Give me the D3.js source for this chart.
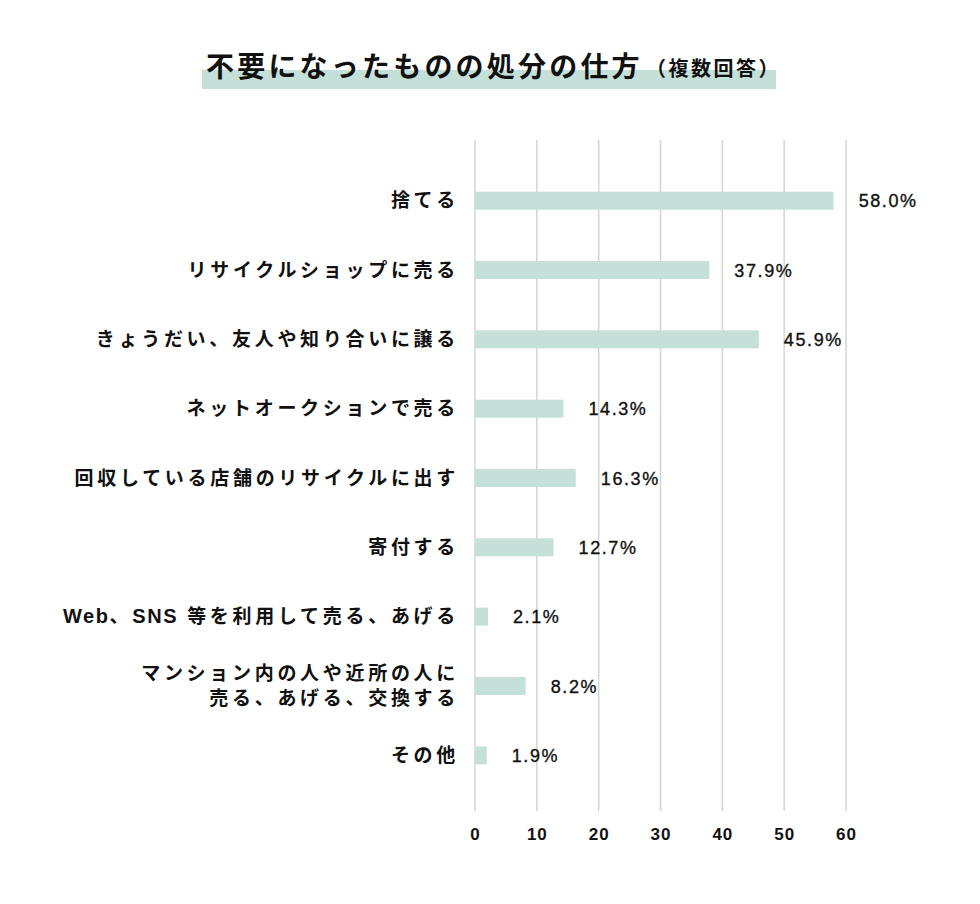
<!DOCTYPE html>
<html><head><meta charset="utf-8">
<script src="https://cdn.jsdelivr.net/npm/d3@7"></script>
<style>body{margin:0;background:#fff;} svg{display:block;}</style>
</head><body>
<svg id="c" width="980" height="904"></svg>
<script>
const categories = [
  ["捨てる"],
  ["リサイクルショップに売る"],
  ["きょうだい、友人や知り合いに譲る"],
  ["ネットオークションで売る"],
  ["回収している店舗のリサイクルに出す"],
  ["寄付する"],
  ["Web、SNS 等を利用して売る、あげる"],
  ["マンション内の人や近所の人に","売る、あげる、交換する"],
  ["その他"]
];
const values = [58.0, 37.9, 45.9, 14.3, 16.3, 12.7, 2.1, 8.2, 1.9];
const ticks = [0, 10, 20, 30, 40, 50, 60];
const title = "不要になったものの処分の仕方";
const subtitle = "（複数回答）";

const svg = d3.select("#c");
const font = "'Liberation Sans', 'Noto Sans CJK JP', sans-serif";
const cjk = "'Noto Sans CJK JP', sans-serif";
const x = d3.scaleLinear().domain([0, 60]).range([475, 846]);
const y = d3.scaleBand().domain(d3.range(categories.length)).range([166, 790]).paddingInner(0.74).paddingOuter(0.37);

// title
svg.append("rect").attr("x", 202).attr("y", 70).attr("width", 574).attr("height", 19).attr("fill", "#c5e0d8");
svg.append("text").attr("x", 206).attr("y", 77).attr("font-family", cjk).attr("font-weight", 700).attr("fill", "#111")
  .attr("font-size", 28).attr("letter-spacing", "3.2px").text(title);
svg.append("text").attr("x", 646).attr("y", 76).attr("font-family", cjk).attr("font-weight", 700).attr("fill", "#111")
  .attr("font-size", 20).attr("letter-spacing", "2.5px").text(subtitle);

// grid
svg.append("g").selectAll("line").data(ticks).join("line")
  .attr("x1", d => x(d)).attr("x2", d => x(d)).attr("y1", 140).attr("y2", 811)
  .attr("stroke", "#d4d4d4").attr("stroke-width", 1.5);

// axis labels
const ax = svg.append("g").attr("transform", "translate(0,812)")
  .call(d3.axisBottom(x).tickValues(ticks).tickSize(0).tickPadding(16).tickFormat(d3.format("d")));
ax.select(".domain").remove();
ax.selectAll("text").attr("font-family", font).attr("font-size", 17).attr("font-weight", 700)
  .attr("letter-spacing", "1px").attr("fill", "#111");

// bars
svg.append("g").selectAll("rect").data(values).join("rect")
  .attr("x", x(0)).attr("y", (d, i) => y(i)).attr("width", d => x(d) - x(0)).attr("height", y.bandwidth())
  .attr("fill", "#c5e0d8");

// value labels
svg.append("g").selectAll("text").data(values).join("text")
  .attr("x", d => x(d) + 25).attr("y", (d, i) => y(i) + y.bandwidth() / 2).attr("dy", "0.37em")
  .attr("font-family", font).attr("font-size", 18).attr("font-weight", 400).attr("letter-spacing", "1.6px")
  .attr("fill", "#111").attr("stroke", "#111").attr("stroke-width", 0.35)
  .text(d => d.toFixed(1) + "%");

// category labels
const lineGap = 25;
const lg = svg.append("g");
categories.forEach((lines, i) => {
  const cy = y(i) + y.bandwidth() / 2;
  lines.forEach((s, j) => {
    const ty = cy + (j - (lines.length - 1) / 2) * lineGap + 6.5;
    const tx = lg.append("text").attr("x", 459).attr("y", ty).attr("text-anchor", "end")
      .attr("font-family", font).attr("font-size", 19).attr("font-weight", 700).attr("fill", "#111");
    const parts = s.match(/[A-Za-z]+|[^A-Za-z]+/g);
    parts.forEach(p => {
      const latin = /^[A-Za-z]+$/.test(p);
      tx.append("tspan").attr("font-size", latin ? 20 : 19).attr("letter-spacing", latin ? "1.6px" : "3.7px").text(p);
    });
  });
});
</script>
</body></html>
